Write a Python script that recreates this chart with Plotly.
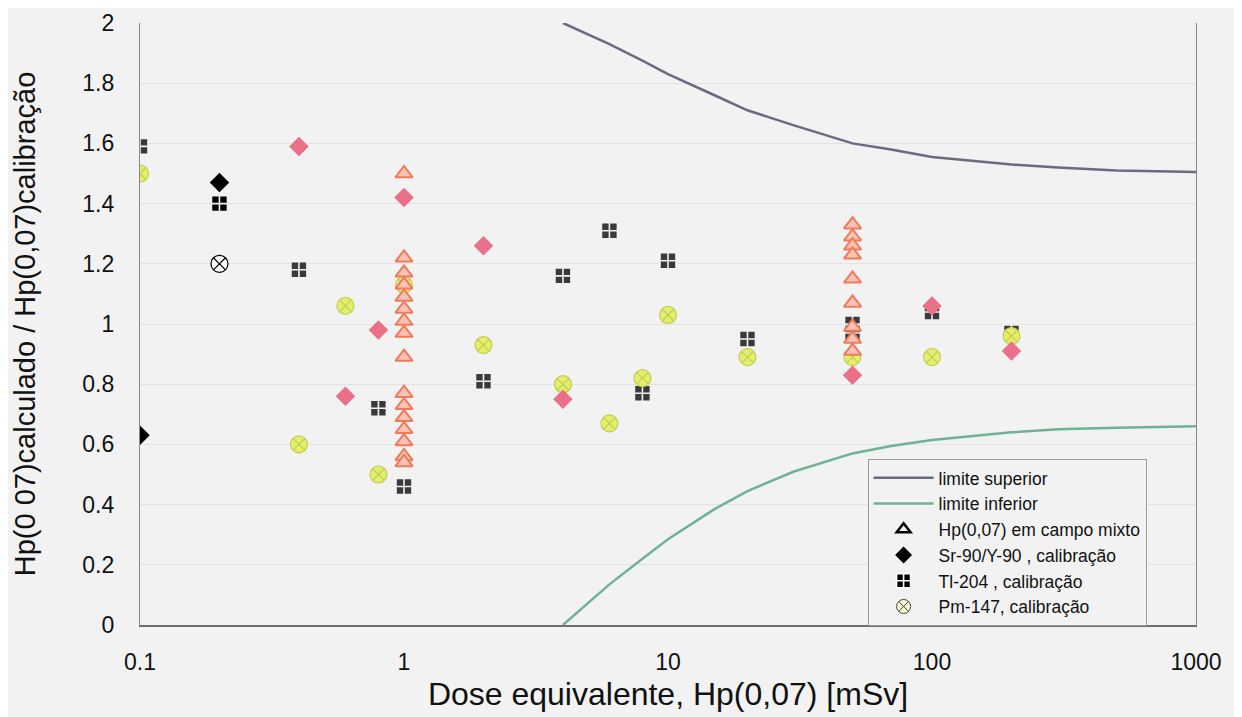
import plotly.graph_objects as go

# ---- data ----
lim_x = [4, 5, 6, 8, 10, 15, 20, 30, 50, 70, 100, 200, 300, 500, 1000]
lim_sup = [2.0, 1.96, 1.93, 1.875, 1.83, 1.76, 1.71, 1.66, 1.60, 1.58, 1.555, 1.53, 1.52, 1.51, 1.505]
lim_inf = [0.0, 0.075, 0.135, 0.22, 0.285, 0.385, 0.445, 0.51, 0.57, 0.595, 0.615, 0.64, 0.65, 0.655, 0.66]

tri_x = [1]*16 + [50]*9
tri_y = [1.50, 1.22, 1.17, 1.13, 1.09, 1.05, 1.01, 0.97, 0.89, 0.77, 0.73, 0.69, 0.65, 0.61, 0.56, 0.54,
         1.33, 1.29, 1.26, 1.23, 1.15, 1.07, 0.99, 0.95, 0.91]

sr_x = [0.1, 0.2, 0.4, 0.6, 0.8, 1, 2, 4, 50, 100, 200]
sr_y = [0.63, 1.47, 1.59, 0.76, 0.98, 1.42, 1.26, 0.75, 0.83, 1.06, 0.91]

tl_x = [0.1, 0.2, 0.4, 0.8, 1, 2, 4, 6, 8, 10, 20, 50, 50, 100, 200]
tl_y = [1.59, 1.40, 1.18, 0.72, 0.46, 0.81, 1.16, 1.31, 0.77, 1.21, 0.95, 1.00, 0.97, 1.04, 0.97]

pm_x = [0.1, 0.2, 0.4, 0.6, 0.8, 1, 2, 4, 6, 8, 10, 20, 50, 100, 200]
pm_y = [1.50, 1.20, 0.60, 1.06, 0.50, 1.13, 0.93, 0.80, 0.67, 0.82, 1.03, 0.89, 0.89, 0.89, 0.96]

x_ticks = [0.1, 1, 10, 100, 1000]
x_tick_text = ["0.1", "1", "10", "100", "1000"]
y_ticks = [0, 0.2, 0.4, 0.6, 0.8, 1, 1.2, 1.4, 1.6, 1.8, 2]
y_tick_text = ["0", "0.2", "0.4", "0.6", "0.8", "1", "1.2", "1.4", "1.6", "1.8", "2"]

names = ["limite superior", "limite inferior", "Hp(0,07) em campo mixto",
         "Sr-90/Y-90 , calibração", "Tl-204 , calibração", "Pm-147, calibração"]

BG = "#f2f2f2"
fig = go.Figure()

# data traces (no legend)
fig.add_trace(go.Scatter(x=lim_x, y=lim_sup, mode="lines", line=dict(color="#6a6a80", width=2.5),
                         showlegend=False))
fig.add_trace(go.Scatter(x=lim_x, y=lim_inf, mode="lines", line=dict(color="#6fb296", width=2.5),
                         showlegend=False))

tl_cols = ["#3a3a3a"] * len(tl_x)
tl_cols[1] = "#000000"
fig.add_trace(go.Scatter(x=tl_x, y=tl_y, mode="markers", showlegend=False,
                         marker=dict(symbol="square-cross", size=16, color=tl_cols,
                                     line=dict(color="#f2f2f2", width=1.6))))

pm_cols = ["#e3ee6c"] * len(pm_x)
pm_cols[1] = "#ffffff"
pm_line = ["#c4cd55"] * len(pm_x)
pm_line[1] = "#000000"
fig.add_trace(go.Scatter(x=pm_x, y=pm_y, mode="markers", showlegend=False,
                         marker=dict(symbol="circle-x", size=17, color=pm_cols,
                                     line=dict(color=pm_line, width=1.2))))

fig.add_trace(go.Scatter(x=tri_x, y=tri_y, mode="markers", showlegend=False,
                         marker=dict(symbol="triangle-up", size=15, color="#f8c2b4",
                                     line=dict(color="#ee7c5c", width=2))))

sr_cols = ["#ea6f88"] * len(sr_x)
sr_cols[0] = "#000000"
sr_cols[1] = "#000000"
fig.add_trace(go.Scatter(x=sr_x, y=sr_y, mode="markers", showlegend=False,
                         marker=dict(symbol="diamond", size=15, color=sr_cols, line=dict(width=0))))

# legend entries
leg_styles = [
    dict(mode="lines", line=dict(color="#6a6a80", width=2.5)),
    dict(mode="lines", line=dict(color="#6fb296", width=2.5)),
    dict(mode="markers", marker=dict(symbol="triangle-up-open", size=12, color="#000000",
                                     line=dict(color="#000000", width=2.5))),
    dict(mode="markers", marker=dict(symbol="diamond", size=13, color="#000000")),
    dict(mode="markers", marker=dict(symbol="square-cross", size=14, color="#000000",
                                     line=dict(color="#ffffff", width=1.6))),
    dict(mode="markers", marker=dict(symbol="circle-x", size=14, color="#f5f7d0",
                                     line=dict(color="#444444", width=1))),
]
for i, (nm, st) in enumerate(zip(names, leg_styles)):
    fig.add_trace(go.Scatter(x=[None], y=[None], name=nm, legendgroup=f"g{i}", **st))

fig.update_layout(
    width=1234, height=709,
    paper_bgcolor=BG, plot_bgcolor=BG,
    margin=dict(l=132, r=46, t=15, b=92),
    font=dict(family="Liberation Sans, Arial, sans-serif", color="#111111"),
    showlegend=True,
    legend=dict(x=0.689, y=0.276, xanchor="left", yanchor="top",
                bgcolor=BG, bordercolor="#9a9a9a", borderwidth=1,
                font=dict(size=17.5, color="#111111"),
                tracegroupgap=0, traceorder="grouped", itemwidth=60),
    xaxis=dict(type="log", range=[-1, 3], tickvals=x_ticks, ticktext=x_tick_text,
               showgrid=False, zeroline=False, showline=True, linecolor="#6e6e6e", linewidth=1.5,
               ticks="", ticklabelstandoff=16, tickfont=dict(size=23), automargin=False,
               title=dict(text="Dose equivalente, Hp(0,07) [mSv]", font=dict(size=32), standoff=8)),
    yaxis=dict(range=[0, 2], tickvals=y_ticks, ticktext=y_tick_text,
               showgrid=True, gridcolor="#e3e3e3", gridwidth=1, zeroline=False,
               showline=True, linecolor="#8a8a8a", linewidth=1.2, mirror=True,
               ticks="", ticklabelstandoff=20, tickfont=dict(size=23), automargin=False,
               title=dict(text="Hp(0 07)calculado / Hp(0,07)calibração", font=dict(size=29), standoff=38)),
)

fig.write_html("out.html")
